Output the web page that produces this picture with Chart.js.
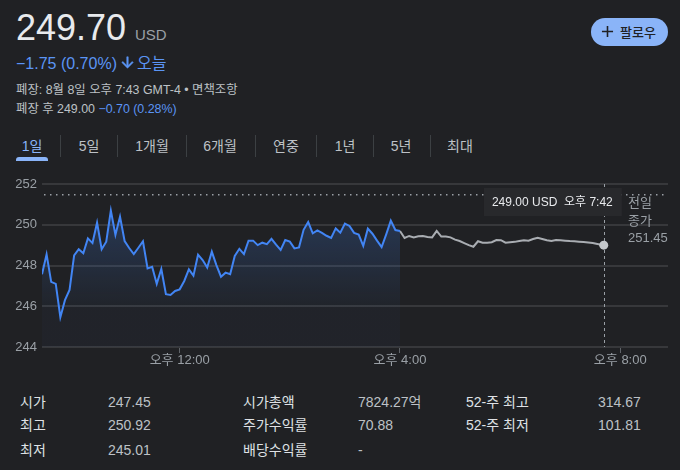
<!DOCTYPE html>
<html><head><meta charset="utf-8">
<script src="https://cdn.jsdelivr.net/npm/chart.js@4.4.1/dist/chart.umd.min.js"></script>
<style>
html,body{margin:0;padding:0;background:#202124;width:680px;height:470px;overflow:hidden;}
body{position:relative;font-family:'Liberation Sans','Noto Sans CJK KR',sans-serif;color:#e8eaed;}
.t{position:absolute;white-space:nowrap;line-height:1;}
.blue{color:#5b95f5;}
.g{color:#bdc1c6;}
.tab{position:absolute;width:60px;text-align:center;font-size:14px;line-height:1;top:138.9px;color:#bdc1c6;}
.sep{position:absolute;top:135px;width:1px;height:22px;background:#3c4043;}
.sl{position:absolute;font-size:14px;line-height:1;color:#dfe1e5;white-space:nowrap;font-weight:400;}
.sv{position:absolute;font-size:14px;line-height:1;color:#bdc1c6;white-space:nowrap;}
#chart{position:absolute;left:0;top:170px;}
.rl{position:absolute;left:628px;font-size:13px;line-height:1;color:#9aa0a6;}
</style></head><body>

<div class="t" style="left:16px;top:9.5px;font-size:36px;color:#e8eaed;">249.70</div>
<div class="t" style="left:135px;top:27.3px;font-size:15px;color:#9aa0a6;">USD</div>

<div class="t blue" style="left:16px;top:55.5px;font-size:16px;">−1.75 (0.70%)</div>
<svg style="position:absolute;left:119.2px;top:54.4px;" width="17" height="17" viewBox="0 0 24 24"><path fill="#5b95f5" stroke="#5b95f5" stroke-width="0.8" d="M20 12l-1.41-1.41L13 16.17V4h-2v12.17l-5.58-5.59L4 12l8 8 8-8z"/></svg>
<div class="t blue" style="left:137px;top:55.5px;font-size:16px;">오늘</div>

<div class="t g" style="left:16px;top:83.6px;font-size:12.4px;">폐장: 8월 8일 오후 7:43 GMT-4 • 면책조항</div>
<div class="t g" style="left:16px;top:102.6px;font-size:12.4px;">폐장 후 249.00 <span class="blue">−0.70 (0.28%)</span></div>

<div style="position:absolute;left:590.7px;top:18.3px;width:77.6px;height:27.4px;border-radius:14px;background:#8ab4f8;"></div>
<svg style="position:absolute;left:597.8px;top:22.3px;" width="19" height="19" viewBox="0 0 24 24"><path fill="#202124" d="M19 13h-6v6h-2v-6H5v-2h6V5h2v6h6v2z"/></svg>
<div class="t" style="left:620px;top:25.6px;font-size:13px;color:#202124;font-weight:500;">팔로우</div>

<div class="tab" style="left:2px;color:#8ab4f8;">1일</div>
<div class="tab" style="left:59px;">5일</div>
<div class="tab" style="left:122px;">1개월</div>
<div class="tab" style="left:190px;">6개월</div>
<div class="tab" style="left:256px;">연중</div>
<div class="tab" style="left:315px;">1년</div>
<div class="tab" style="left:371px;">5년</div>
<div class="tab" style="left:430px;">최대</div>
<div style="position:absolute;left:16px;top:157px;width:32px;height:4px;background:#8ab4f8;border-radius:3px 3px 0 0;"></div>
<div class="sep" style="left:60px;"></div>
<div class="sep" style="left:117px;"></div>
<div class="sep" style="left:186px;"></div>
<div class="sep" style="left:255px;"></div>
<div class="sep" style="left:316px;"></div>
<div class="sep" style="left:373px;"></div>
<div class="sep" style="left:430px;"></div>

<canvas id="chart" width="680" height="205"></canvas>

<div class="rl" style="top:196.2px;">전일</div>
<div class="rl" style="top:214.3px;">종가</div>
<div class="rl" style="top:231px;">251.45</div>

<div class="sl" style="left:20px;top:394.8px;">시가</div>
<div class="sv" style="left:108px;top:394.8px;">247.45</div>
<div class="sl" style="left:243px;top:394.8px;">시가총액</div>
<div class="sv" style="left:358px;top:394.8px;">7824.27억</div>
<div class="sl" style="left:466px;top:394.8px;">52-주 최고</div>
<div class="sv" style="left:598px;top:394.8px;">314.67</div>

<div class="sl" style="left:20px;top:418.1px;">최고</div>
<div class="sv" style="left:108px;top:418.1px;">250.92</div>
<div class="sl" style="left:243px;top:418.1px;">주가수익률</div>
<div class="sv" style="left:358px;top:418.1px;">70.88</div>
<div class="sl" style="left:466px;top:418.1px;">52-주 최저</div>
<div class="sv" style="left:598px;top:418.1px;">101.81</div>

<div class="sl" style="left:20px;top:442.5px;">최저</div>
<div class="sv" style="left:108px;top:442.5px;">245.01</div>
<div class="sl" style="left:243px;top:442.5px;">배당수익률</div>
<div class="sv" style="left:358px;top:442.5px;">-</div>

<script>
// ---- data ----
const sessionStartMinute = 570;   // 9:30
const afterStartMinute = 960;     // 16:00
const stepMinutes = 5;
const lastPointMinute = 1182;     // 19:42

const regularValues = [
 247.57,248.55,247.20,247.10,245.46,246.30,246.80,248.50,248.80,248.60,
 249.33,249.10,250.10,248.80,249.17,250.70,249.50,250.40,249.20,248.86,
 248.56,248.87,249.19,247.86,247.94,247.10,247.83,246.59,246.55,246.75,
 246.83,247.24,247.81,247.50,248.53,248.27,247.90,248.68,248.02,247.45,
 247.65,247.57,248.47,248.82,248.56,249.22,249.22,249.00,249.12,249.05,
 249.31,249.02,248.76,249.25,249.17,248.84,248.89,249.75,250.13,249.58,
 249.72,249.60,249.46,249.35,249.82,249.61,250.06,249.94,249.60,249.52,
 248.96,249.81,249.56,249.22,248.90,249.53,250.20,249.74,249.69
];
const afterValues = [
 249.69,249.35,249.45,249.38,249.43,249.45,249.40,249.38,249.70,249.42,
 249.42,249.38,249.27,249.20,249.10,249.00,248.92,249.19,249.12,249.12,
 249.14,249.25,249.24,249.12,249.14,249.16,249.20,249.24,249.22,249.30,
 249.36,249.30,249.24,249.20,249.25,249.24,249.22,249.20,249.19,249.17,
 249.15,249.13,249.10,249.06
];
const lastValue = 249.00;
const lastLabel = '249.00 USD  오후 7:42';
const previousClose = 251.45;

const xTickValues = [720, 960, 1200];
const xTickLabels = ['오후 12:00', '오후 4:00', '오후 8:00'];
const yTickValues = [244, 246, 248, 250, 252];

// ---- build ----
const regularData = regularValues.map((v, i) => ({x: sessionStartMinute + i * stepMinutes, y: v}));
const afterData = afterValues.map((v, i) => ({x: afterStartMinute + i * stepMinutes, y: v}));
afterData.push({x: lastPointMinute, y: lastValue});

const FONT = "'Liberation Sans', 'Noto Sans CJK KR', sans-serif";

const overlay = {
  id: 'overlay',
  beforeDatasetsDraw(chart) {
    const {ctx, chartArea, scales} = chart;
    const y = scales.y.getPixelForValue(previousClose);
    ctx.save();
    ctx.fillStyle = '#9aa0a6';
    for (let x = chartArea.left + 2; x < chartArea.right; x += 6) {
      ctx.fillRect(Math.round(x), Math.round(y) - 1, 1.5, 1.5);
    }
    const lx = scales.x.getPixelForValue(lastPointMinute);
    ctx.strokeStyle = '#9aa0a6';
    ctx.lineWidth = 1;
    ctx.setLineDash([3, 3]);
    ctx.beginPath();
    ctx.moveTo(Math.round(lx) + 0.5, chartArea.top);
    ctx.lineTo(Math.round(lx) + 0.5, chartArea.bottom);
    ctx.stroke();
    ctx.restore();
  },
  afterDatasetsDraw(chart) {
    const {ctx, chartArea, scales} = chart;
    const lx = scales.x.getPixelForValue(lastPointMinute);
    ctx.save();
    ctx.font = '12px ' + FONT;
    const w = ctx.measureText(lastLabel).width + 17;
    const right = lx + 18;
    const top = chartArea.top + 4;
    ctx.fillStyle = '#28292c';
    ctx.fillRect(right - w, top, w, 28);
    ctx.fillStyle = '#e8eaed';
    ctx.textBaseline = 'middle';
    ctx.fillText(lastLabel, right - w + 8, top + 14.5);
    ctx.restore();
  }
};

const ctx = document.getElementById('chart').getContext('2d');
new Chart(ctx, {
  type: 'line',
  data: {
    datasets: [
      {
        data: regularData,
        borderColor: '#4285f4',
        borderWidth: 2,
        pointRadius: 0,
        tension: 0,
        fill: 'start',
        backgroundColor: (c) => {
          const ch = c.chart;
          const a = ch.chartArea;
          if (!a) return 'rgba(66,133,244,0.2)';
          const y0 = ch.scales.y.getPixelForValue(250.8);
          const y1 = ch.scales.y.getPixelForValue(245.9);
          const g = ch.ctx.createLinearGradient(0, y0, 0, y1);
          g.addColorStop(0, 'rgba(66,133,244,0.24)');
          g.addColorStop(1, 'rgba(66,133,244,0.03)');
          return g;
        }
      },
      {
        data: afterData,
        borderColor: '#a9adb2',
        borderWidth: 2,
        tension: 0,
        fill: false,
        pointRadius: (c) => c.dataIndex === afterData.length - 1 ? 4.5 : 0,
        pointBackgroundColor: '#c4c7cb',
        pointBorderWidth: 0,
        pointHoverRadius: 0
      }
    ]
  },
  options: {
    responsive: false,
    animation: false,
    devicePixelRatio: 1,
    events: [],
    layout: {padding: {left: 0, right: 12, top: 14, bottom: 0}},
    plugins: {legend: {display: false}, tooltip: {enabled: false}},
    scales: {
      x: {
        type: 'linear',
        min: 570,
        max: 1252,
        afterBuildTicks: (s) => { s.ticks = xTickValues.map(v => ({value: v})); },
        afterFit: (s) => { s.height = 28; },
        ticks: {
          padding: 0,
          color: '#9aa0a6',
          font: {size: 13, family: FONT},
          maxRotation: 0,
          autoSkip: false,
          callback: (v) => xTickLabels[xTickValues.indexOf(v)]
        },
        grid: {drawOnChartArea: false, drawTicks: true, tickLength: 6, color: '#5f6368', lineWidth: 1},
        border: {display: false}
      },
      y: {
        min: 244,
        max: 252,
        afterBuildTicks: (s) => { s.ticks = yTickValues.map(v => ({value: v})); },
        afterFit: (s) => { s.width = 42; },
        ticks: {
          padding: 5,
          color: '#9aa0a6',
          font: {size: 13, family: FONT},
          callback: (v) => String(v)
        },
        grid: {color: '#37383b', lineWidth: 2, drawTicks: false},
        border: {display: false}
      }
    }
  },
  plugins: [overlay]
});
</script>
</body></html>
